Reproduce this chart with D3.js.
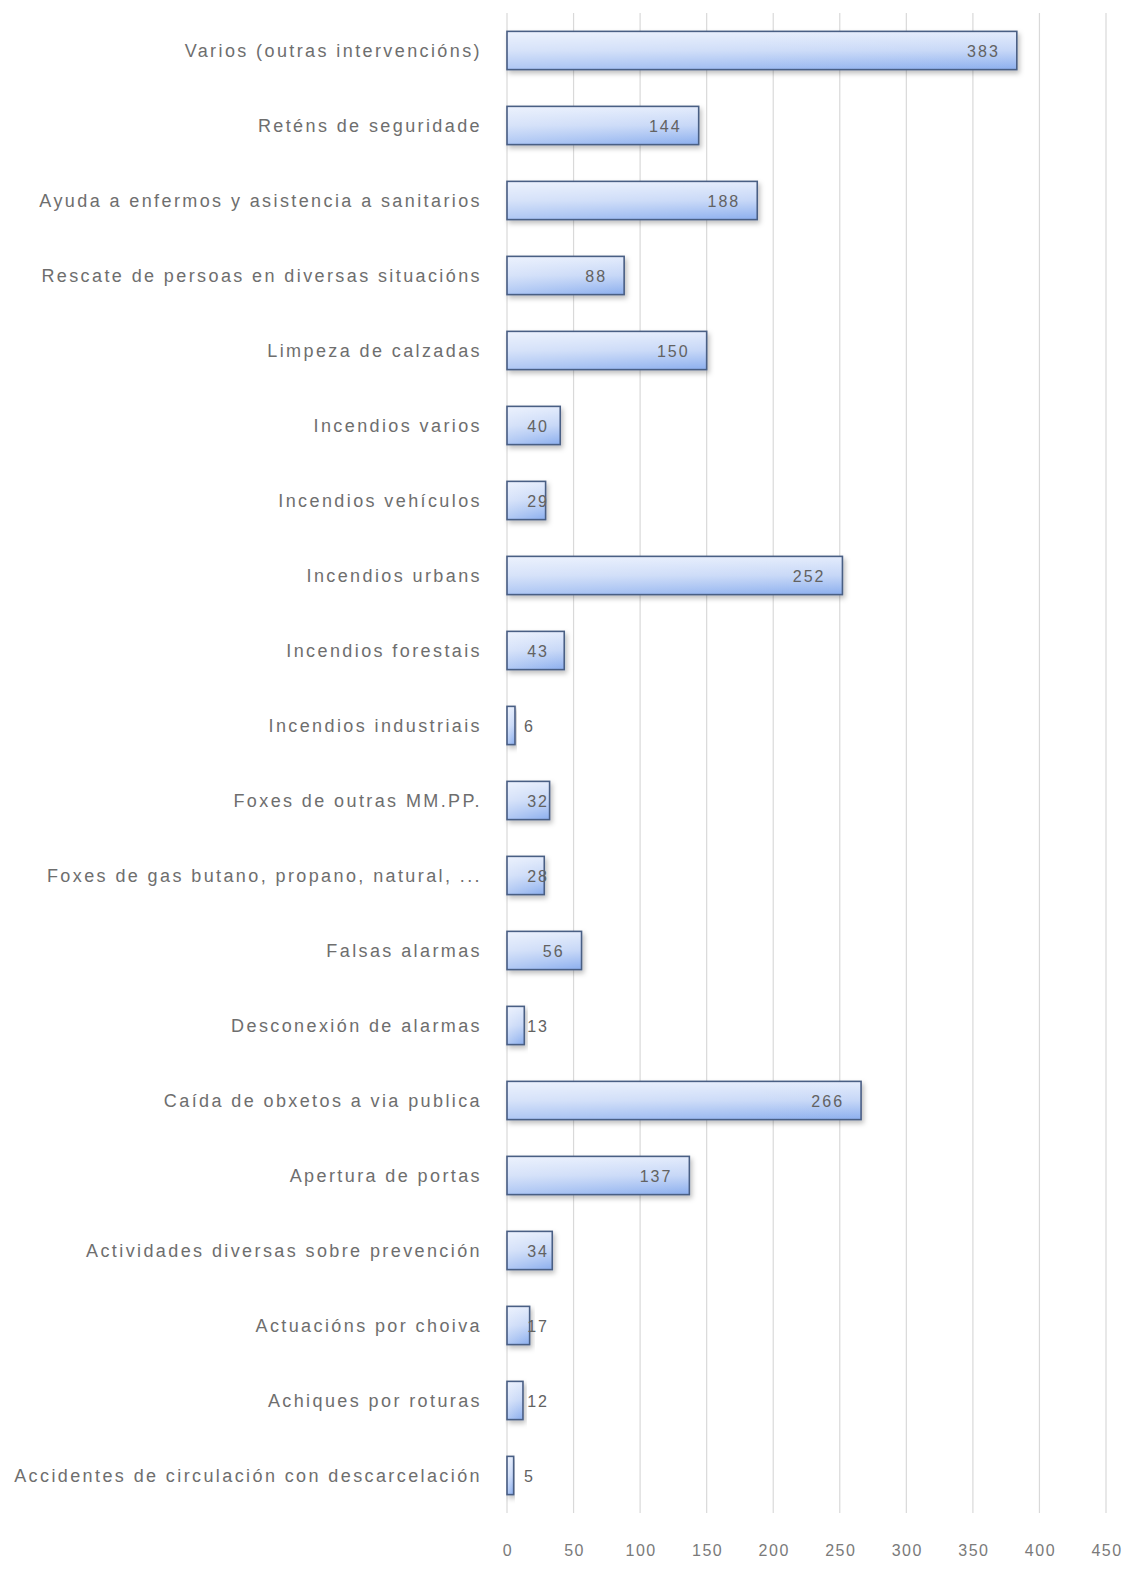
<!DOCTYPE html>
<html><head><meta charset="utf-8">
<script src="https://cdn.jsdelivr.net/npm/d3@7"></script>
<style>body{margin:0;background:#fff}</style>
</head><body>
<svg id="c" width="1137" height="1574"></svg>
<script>
const categories = [
  "Varios (outras intervencións)",
  "Reténs de seguridade",
  "Ayuda a enfermos y asistencia a sanitarios",
  "Rescate de persoas en diversas situacións",
  "Limpeza de calzadas",
  "Incendios varios",
  "Incendios vehículos",
  "Incendios urbans",
  "Incendios forestais",
  "Incendios industriais",
  "Foxes de outras MM.PP.",
  "Foxes de gas butano, propano, natural, ...",
  "Falsas alarmas",
  "Desconexión de alarmas",
  "Caída de obxetos a via publica",
  "Apertura de portas",
  "Actividades diversas sobre prevención",
  "Actuacións por choiva",
  "Achiques por roturas",
  "Accidentes de circulación con descarcelación"
];
const values = [383,144,188,88,150,40,29,252,43,6,32,28,56,13,266,137,34,17,12,5];
const tickValues = [0,50,100,150,200,250,300,350,400,450];

const svg = d3.select("#c");
const pLeft = 507, pRight = 1106, pTop = 13, pBottom = 1513;
const x = d3.scaleLinear().domain([0,450]).range([pLeft,pRight]);
const y = d3.scaleBand().domain(categories).range([pTop,pBottom]).paddingInner(0.49).paddingOuter(0.245);

const defs = svg.append("defs");
const g = defs.append("linearGradient").attr("id","bg").attr("x1",0).attr("y1",0).attr("x2",0).attr("y2",1);
g.append("stop").attr("offset","0%").attr("stop-color","#e4ecfc");
g.append("stop").attr("offset","50%").attr("stop-color","#c6d7f7");
g.append("stop").attr("offset","100%").attr("stop-color","#8cafee");
const gh = defs.append("linearGradient").attr("id","bgh").attr("x1",0).attr("y1",0).attr("x2",1).attr("y2",0);
gh.append("stop").attr("offset","0%").attr("stop-color","#ffffff").attr("stop-opacity",0.3);
gh.append("stop").attr("offset","100%").attr("stop-color","#ffffff").attr("stop-opacity",0);
const f = defs.append("filter").attr("id","sh").attr("x","-10%").attr("y","-30%").attr("width","130%").attr("height","180%");
f.append("feDropShadow").attr("dx",2).attr("dy",3).attr("stdDeviation",2.5).attr("flood-color","#000").attr("flood-opacity",0.25);

// gridlines
svg.append("g").selectAll("line").data(tickValues).join("line")
  .attr("x1",d=>x(d)).attr("x2",d=>x(d)).attr("y1",pTop).attr("y2",pBottom)
  .attr("stroke","#d9d9d9").attr("stroke-width",1.2);

// x tick labels
svg.append("g").selectAll("text").data(tickValues).join("text")
  .attr("x",d=>x(d)+1).attr("y",1556).attr("text-anchor","middle")
  .attr("font-family","Liberation Sans, Arial, sans-serif").attr("font-size",16)
  .attr("letter-spacing",1.5)
  .attr("fill","#7a7a7a").text(d=>d);

// bars
const bars = svg.append("g");
bars.selectAll("rect.b").data(values).join("rect").attr("class","b")
  .attr("x",x(0)).attr("y",(d,i)=>y(categories[i]))
  .attr("width",d=>x(d)-x(0)).attr("height",y.bandwidth())
  .attr("fill","url(#bg)").attr("stroke","#4a5e84").attr("stroke-width",1.6)
  .attr("filter","url(#sh)");
bars.selectAll("rect.h").data(values).join("rect").attr("class","h")
  .attr("x",x(0)+1).attr("y",(d,i)=>y(categories[i])+1)
  .attr("width",d=>Math.max(0,x(d)-x(0)-2)).attr("height",y.bandwidth()-2)
  .attr("fill","url(#bgh)");

// value labels
svg.append("g").selectAll("text").data(values).join("text")
  .attr("x",d=>Math.max(x(d)-17, x(0)+14 + String(d).length*14))
  .attr("y",(d,i)=>y(categories[i])+y.bandwidth()/2+6)
  .attr("text-anchor","end")
  .attr("font-family","Liberation Sans, Arial, sans-serif").attr("font-size",16)
  .attr("letter-spacing",2)
  .attr("fill","#626262").text(d=>d);

// category labels
svg.append("g").selectAll("text").data(categories).join("text")
  .attr("x",482).attr("y",d=>y(d)+y.bandwidth()/2+6)
  .attr("text-anchor","end")
  .attr("font-family","Liberation Sans, Arial, sans-serif").attr("font-size",18)
  .attr("letter-spacing",2.4)
  .attr("fill","#6e6e6e").text(d=>d);
</script>
</body></html>
